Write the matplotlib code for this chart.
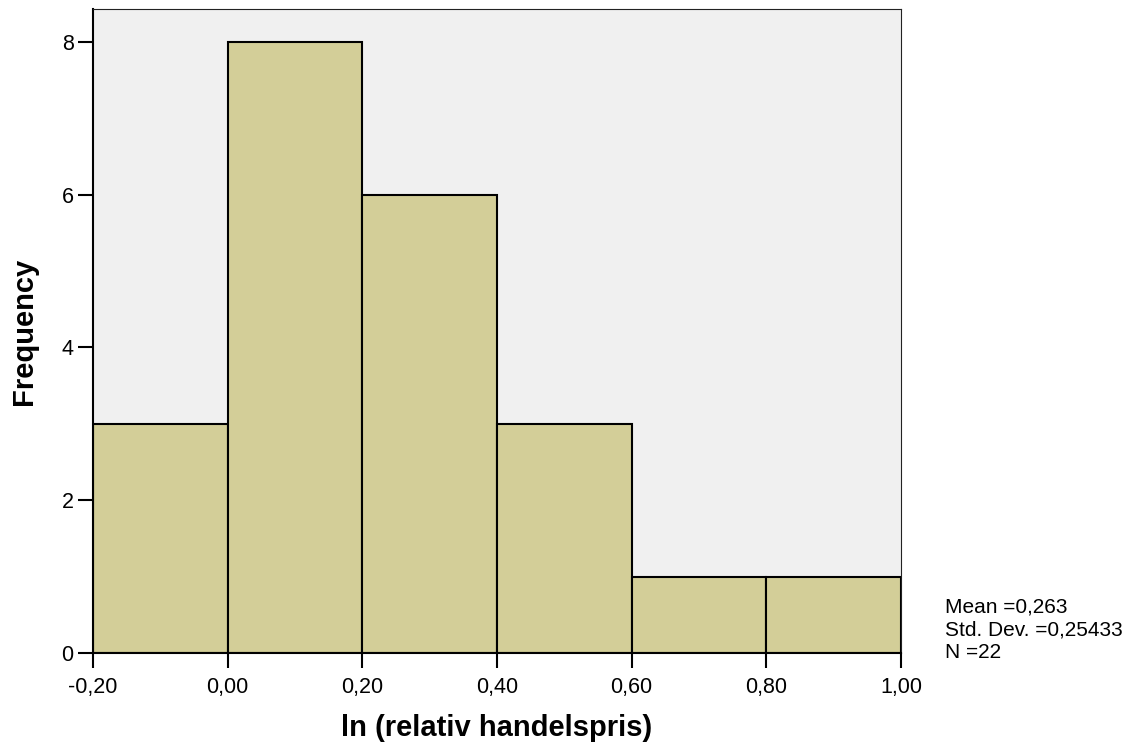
import matplotlib

matplotlib.use('Agg')
import matplotlib.pyplot as plt

plt.rcParams['font.family'] = ['Liberation Sans', 'DejaVu Sans']

BIN_EDGES = [-0.20, 0.00, 0.20, 0.40, 0.60, 0.80, 1.00]
COUNTS = [3, 8, 6, 3, 1, 1]
X_TICKS = [-0.20, 0.00, 0.20, 0.40, 0.60, 0.80, 1.00]
Y_TICKS = [0, 2, 4, 6, 8]
STATS = ['Mean =0,263', 'Std. Dev. =0,25433', 'N =22']

fig = plt.figure(figsize=(11.34, 7.51), dpi=100)
ax = fig.add_axes([93 / 1134, 98 / 751, 808 / 1134, 644 / 751])
ax.set_facecolor('#f0f0f0')

widths = [BIN_EDGES[i + 1] - BIN_EDGES[i] for i in range(len(COUNTS))]
ax.bar(BIN_EDGES[:-1], COUNTS, width=widths, align='edge',
       color='#d3ce98', edgecolor='black', linewidth=1.5, zorder=2)

ax.set_xlim(-0.2, 1.0)
ax.set_ylim(0, 8.43)
ax.set_xticks(X_TICKS)
ax.set_xticklabels([f'{v:.2f}'.replace('.', ',') for v in X_TICKS])
ax.set_yticks(Y_TICKS)
ax.tick_params(direction='out', length=11, width=1.5, labelsize=15.5)
ax.tick_params(axis='x', pad=6)
ax.tick_params(axis='y', pad=3)

for side in ('left', 'bottom'):
    ax.spines[side].set_linewidth(1.5)
for side in ('top', 'right'):
    ax.spines[side].set_linewidth(0.8)
    ax.spines[side].set_color('#222222')

ax.set_xlabel('ln (relativ handelspris)', fontsize=21, fontweight='bold', labelpad=12)
ax.set_ylabel('Frequency', fontsize=21, fontweight='bold', labelpad=17)

# summary statistics box to the right of the plot
for i, line in enumerate(STATS):
    fig.text(945 / 1134, 1 - (607 + 23 * i) / 751, line, fontsize=15,
             va='center', ha='left')

fig.savefig('out.png', dpi=100)
